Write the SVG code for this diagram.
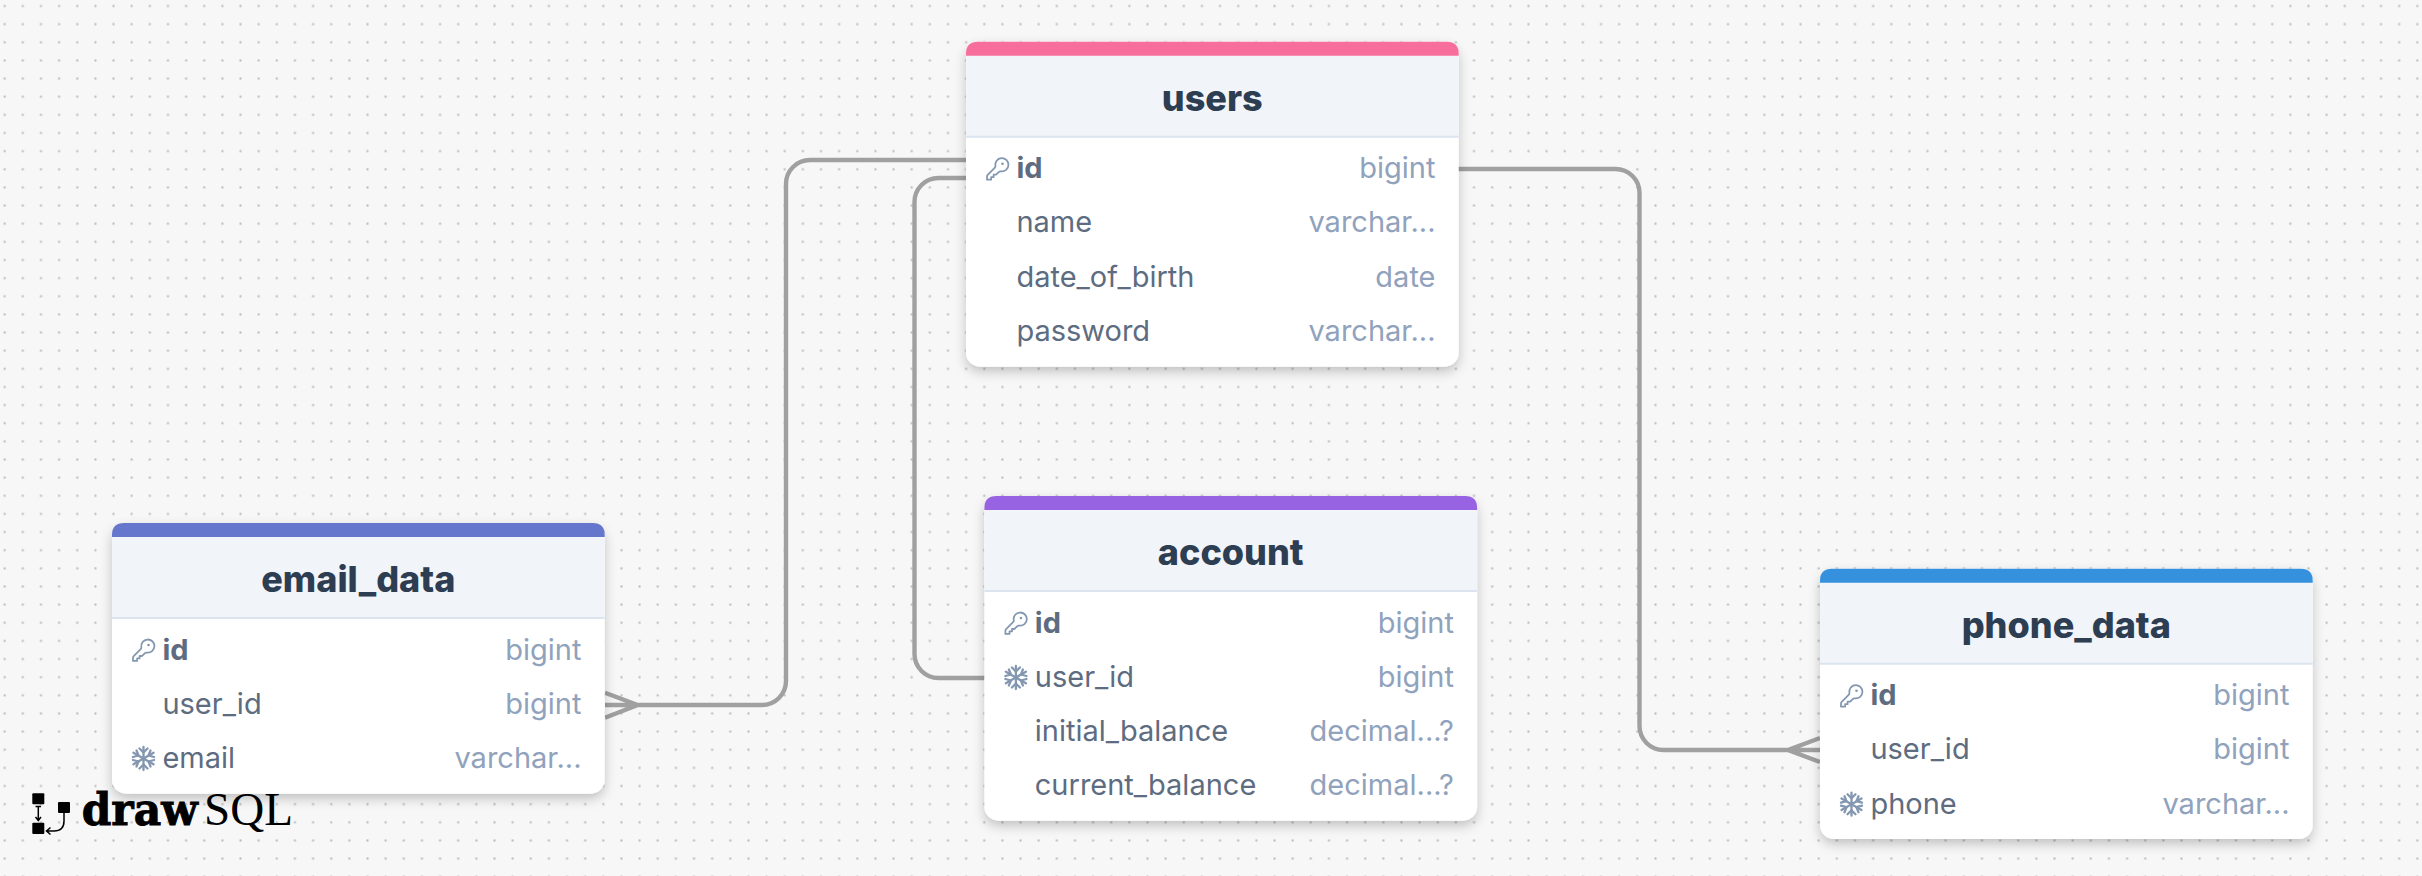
<svg xmlns="http://www.w3.org/2000/svg" width="2422" height="876" viewBox="0 0 2422 876">
<style>
text{font-family:Inter,"Liberation Sans",sans-serif}
.t{font-size:36px;font-weight:800;fill:#2d3d52;text-anchor:middle}
.n{font-size:29px;fill:#5d6c80}
.k{font-size:29px;font-weight:700;fill:#5d6c80}
.y{font-size:29px;fill:#90a2bc;text-anchor:end}
.card{fill:#fff;filter:url(#sh)}
.head{fill:#f1f4f9}
.div{stroke:#dce4ef;stroke-width:2}
.ln{fill:none;stroke:#a0a0a0;stroke-width:4.4}
</style>
<defs>
<pattern id="dots" x="-4.37" y="-3.07" width="18.14" height="18.14" patternUnits="userSpaceOnUse"><rect x="8.07" y="8.07" width="2" height="2" fill="#b8b8b8"/></pattern>
<filter id="sh" x="-10%" y="-10%" width="120%" height="125%"><feDropShadow dx="0" dy="5" stdDeviation="6" flood-color="#000" flood-opacity=".22"/></filter>
<g id="key"><path transform="scale(1.1) translate(-2.25,-1.8)" d="M21.75 8.25a6 6 0 01-7.029 5.912c-.563-.097-1.159.026-1.563.43L10.5 17.25H8.25v2.25H6v2.25H2.25v-2.818c0-.597.237-1.17.659-1.591l6.499-6.499c.404-.404.527-1 .43-1.563A6 6 0 1121.75 8.25z" fill="none" stroke="#8497b0" stroke-width="1.6" stroke-linejoin="round"/><circle cx="15.5" cy="6" r="1.3" fill="#8497b0"/></g>
<g id="snow" fill="none" stroke="#8497b0" stroke-width="2.3" stroke-linecap="round" stroke-linejoin="round"><path d="M11.5 1V24M1.5 6.7L21.5 18.3M1.5 18.3L21.5 6.7"/><path d="M7.5 2.5L11.5 6.5L15.5 2.5M7.5 22.5L11.5 18.5L15.5 22.5M1 11L6.5 9.5L4.5 4.5M22 11L16.5 9.5L18.5 4.5M1 14L6.5 15.5L4.5 20.5M22 14L16.5 15.5L18.5 20.5"/></g>
</defs>
<rect width="2422" height="876" fill="#f7f7f7"/>
<rect width="2422" height="876" fill="url(#dots)"/>
<g id="connectors">
<path class="ln" d="M966 160H810A24 24 0 0 0 786 184V681A24 24 0 0 1 762 705H605M605 692.7L637.6 705L605 717.7"/>
<path class="ln" d="M966 178H938.5A24 24 0 0 0 914.5 202V654A24 24 0 0 0 938.5 678H984.5"/>
<path class="ln" d="M1458 169H1615.5A24 24 0 0 1 1639.5 193V726A24 24 0 0 0 1663.5 750H1820M1820 738L1788 750L1820 762"/>
</g>
<g id="users" transform="translate(966,41.7)">
<rect class="card" width="492.7" height="325" rx="14"/>
<path class="head" d="M0 14H492.7V95H0Z"/><path d="M0 14V12Q0 0 12 0H480.7Q492.7 0 492.7 12V14Z" fill="#f76d9b"/>
<line class="div" x1="0" x2="492.7" y1="95" y2="95"/>
<text class="t" x="246.3" y="69">users</text>
<use href="#key" x="21" y="116"/>
<text class="k" x="50.4" y="136.5">id</text><text class="y" x="469.5" y="136.5">bigint</text>
<text class="n" x="50.4" y="190.8">name</text><text class="y" x="469.5" y="190.8">varchar...</text>
<text class="n" x="50.4" y="245.1">date_of_birth</text><text class="y" x="469.5" y="245.1">date</text>
<text class="n" x="50.4" y="299.4">password</text><text class="y" x="469.5" y="299.4">varchar...</text>
</g>
<g id="email_data" transform="translate(112,523)">
<rect class="card" width="492.7" height="270.7" rx="14"/>
<path class="head" d="M0 14H492.7V95H0Z"/><path d="M0 14V12Q0 0 12 0H480.7Q492.7 0 492.7 12V14Z" fill="#6577cd"/>
<line class="div" x1="0" x2="492.7" y1="95" y2="95"/>
<text class="t" x="246.3" y="69">email_data</text>
<use href="#key" x="21" y="116"/>
<text class="k" x="50.4" y="136.5">id</text><text class="y" x="469.5" y="136.5">bigint</text>
<text class="n" x="50.4" y="190.8">user_id</text><text class="y" x="469.5" y="190.8">bigint</text>
<use href="#snow" x="20" y="223"/>
<text class="n" x="50.4" y="245.1">email</text><text class="y" x="469.5" y="245.1">varchar...</text>
</g>
<g id="account" transform="translate(984.4,496)">
<rect class="card" width="492.7" height="324.7" rx="14"/>
<path class="head" d="M0 14H492.7V95H0Z"/><path d="M0 14V12Q0 0 12 0H480.7Q492.7 0 492.7 12V14Z" fill="#9763e2"/>
<line class="div" x1="0" x2="492.7" y1="95" y2="95"/>
<text class="t" x="246.3" y="69">account</text>
<use href="#key" x="21" y="116"/>
<text class="k" x="50.4" y="136.5">id</text><text class="y" x="469.5" y="136.5">bigint</text>
<use href="#snow" x="20" y="169"/>
<text class="n" x="50.4" y="190.8">user_id</text><text class="y" x="469.5" y="190.8">bigint</text>
<text class="n" x="50.4" y="245.1">initial_balance</text><text class="y" x="469.5" y="245.1">decimal...?</text>
<text class="n" x="50.4" y="299.4">current_balance</text><text class="y" x="469.5" y="299.4">decimal...?</text>
</g>
<g id="phone_data" transform="translate(1820,568.7)">
<rect class="card" width="492.7" height="270.3" rx="14"/>
<path class="head" d="M0 14H492.7V95H0Z"/><path d="M0 14V12Q0 0 12 0H480.7Q492.7 0 492.7 12V14Z" fill="#3590dd"/>
<line class="div" x1="0" x2="492.7" y1="95" y2="95"/>
<text class="t" x="246.3" y="69">phone_data</text>
<use href="#key" x="21" y="116"/>
<text class="k" x="50.4" y="136.5">id</text><text class="y" x="469.5" y="136.5">bigint</text>
<text class="n" x="50.4" y="190.8">user_id</text><text class="y" x="469.5" y="190.8">bigint</text>
<use href="#snow" x="20" y="223"/>
<text class="n" x="50.4" y="245.1">phone</text><text class="y" x="469.5" y="245.1">varchar...</text>
</g>
<g id="logo">
<rect x="32.3" y="793.3" width="12" height="11" rx="1"/><rect x="32.3" y="822.7" width="12" height="11.3" rx="1"/><rect x="58" y="802" width="12" height="11" rx="1"/>
<path d="M35.5 806.5H41M38.3 806.5V820M35.5 817L38.3 820.5L41 817M64 813V821Q64 831 54 831H47M50.5 827.5L46.5 831L50.5 834.5" fill="none" stroke="#000" stroke-width="1.5"/>
<text x="81.7" y="825" font-size="44" font-weight="700" stroke="#000" stroke-width=".9" textLength="116" lengthAdjust="spacingAndGlyphs" style="font-family:'DejaVu Serif',serif">draw</text>
<text x="204" y="825" font-size="47" textLength="89" lengthAdjust="spacingAndGlyphs" style="font-family:'Liberation Serif',serif">SQL</text>
</g>
</svg>
